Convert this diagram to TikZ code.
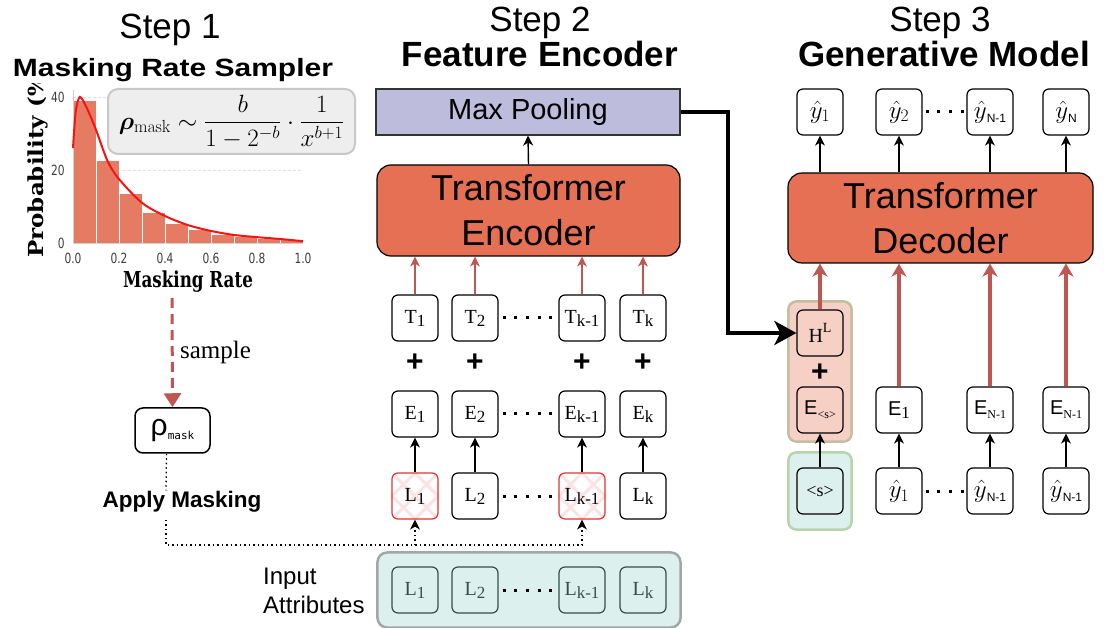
\RequirePackage{fix-cm}
\documentclass[tikz,border=0pt]{standalone}
\usepackage{amsmath,amssymb}
\usepackage{bm}
\usepackage[no-math]{fontspec}
\setmainfont{Liberation Sans}
\newfontfamily\arial{Liberation Sans}
\newfontfamily\serif{Liberation Serif}
\newfontfamily\plotserif{DejaVu Serif}
\newfontfamily\plotsans{DejaVu Sans}
\newfontfamily\codefont{DejaVu Sans Mono}
\usetikzlibrary{arrows.meta,positioning,calc,fit,backgrounds}

\definecolor{tfred}{RGB}{230,112,84}
\definecolor{poolpurple}{RGB}{190,188,220}
\definecolor{arrowred}{RGB}{190,86,82}
\definecolor{barred}{RGB}{228,123,98}
\definecolor{curvered}{RGB}{245,20,20}
\definecolor{tealfill}{RGB}{220,240,237}
\definecolor{pinkfill}{RGB}{246,207,197}
\definecolor{groupgray}{RGB}{160,168,166}
\definecolor{groupgreen}{RGB}{185,212,170}
\definecolor{groupolive}{RGB}{196,190,160}
\definecolor{maskred}{RGB}{222,52,52}
\definecolor{hatchpink}{RGB}{252,226,226}
\definecolor{formulagray}{RGB}{238,238,238}
\definecolor{formulaedge}{RGB}{200,200,200}
\definecolor{tickgray}{RGB}{60,60,60}
\definecolor{attrslate}{RGB}{55,78,72}

\newcommand{\idx}[1]{\raisebox{-3pt}{\fontsize{17}{17}\selectfont #1}}
\newcommand{\tinyidx}[1]{\raisebox{-4pt}{\fontsize{12}{12}\selectfont #1}}
\newcommand{\squeeze}[1]{\scalebox{0.76}[1]{#1}}

\tikzset{
  title/.style={anchor=base, inner sep=0pt, font=\fontsize{35}{40}\selectfont},
  subtitle/.style={anchor=base, inner sep=0pt, font=\bfseries\fontsize{35}{40}\selectfont},
  tok/.style={draw, rounded corners=6pt, line width=1.2pt, minimum width=46pt,
    minimum height=46pt, inner sep=0pt, font=\serif\fontsize{20}{22}\selectfont},
  hat/.style={tok, font=\fontsize{25}{26}\selectfont},
  masked/.style={tok, draw=maskred},
  attr/.style={tok, draw=attrslate, text=attrslate},
  plus/.style={inner sep=0pt, font=\bfseries\fontsize{30}{30}\selectfont},
  tfbox/.style={draw, rounded corners=14pt, line width=1.2pt, fill=tfred,
    minimum height=91pt, align=center, font=\fontsize{36}{45}\selectfont},
  dots/.style={line width=3pt, dash pattern=on 3pt off 8.7pt},
  up/.style={line width=1.4pt, -{Stealth[length=10pt,width=10pt,inset=3pt]}},
  redup/.style={arrowred, line width=1.2pt, -{Stealth[length=10pt,width=10pt,inset=3pt]}},
  redthick/.style={arrowred, line width=3.2pt, -{Stealth[length=13pt,width=15pt,inset=4pt]}},
  maskline/.style={line width=1.3pt, dash pattern=on 1.5pt off 3pt},
  hatch/.style={hatchpink, line width=3pt},
  gridline/.style={black!12, line width=0.6pt, dash pattern=on 3pt off 2pt},
  ticklabel/.style={inner sep=0pt, text=tickgray, font=\plotsans\fontsize{14}{14}\selectfont},
  ingroup/.style={draw=groupgray, line width=2.5pt, fill=tealfill, rounded corners=10pt, inner sep=14pt},
}

\begin{document}
\begin{tikzpicture}[x=1pt,y=-1pt]
\useasboundingbox (0,0) rectangle (1104,628);

% Step titles
\node[title] (step1) at (170,39) {Step 1};
\node[subtitle, font=\bfseries\fontsize{25}{28}\selectfont] (sampler) at (173,77)
  {\scalebox{1.2}[1]{Masking Rate Sampler}};
\node[title] (step2) at (540,32) {Step 2};
\node[subtitle] (encname) at (540,67) {Feature Encoder};
\node[title] (step3) at (940,32) {Step 3};
\node[subtitle] (genname) at (944,67) {Generative Model};

% Masking rate histogram
\begin{scope}[shift={(73,243)}, x=230pt, y=3.65pt]
  \draw[gridline] (0,20) -- (1,20);
  \draw[gridline] (0,40) -- (1,40);
  \foreach \i/\h in {0/39.2,1/22.5,2/13.7,3/8.5,4/5.5,5/3.6,6/2.4,7/1.7,8/1.3,9/0.9}
    \filldraw[fill=barred, draw=white, line width=0.8pt] (\i/10,0) rectangle ({(\i+1)/10},\h);
  \draw[black!18, line width=0.8pt] (0,42) -- (0,0) -- (1,0);
  \draw[curvered, line width=2pt] plot[smooth] coordinates {(0,26) (0.012,36) (0.03,40)
    (0.06,37) (0.1,31) (0.15,22.5) (0.2,17.5) (0.3,11) (0.4,7.4) (0.5,4.9)
    (0.6,3.3) (0.7,2.2) (0.8,1.6) (0.9,1.1) (1.0,0.5)};
  \foreach \v in {0,20,40}
    \node[ticklabel, anchor=east] at (-0.035,\v) {\squeeze{\v}};
  \foreach \u in {0.0,0.2,0.4,0.6,0.8,1.0}
    \node[ticklabel] at (\u,-4.3) {\squeeze{\u}};
\end{scope}
\node[font=\plotserif\bfseries\fontsize{22}{22}\selectfont] (xlabel) at (188,282)
  {\squeeze{Masking Rate}};
\begin{scope}
  \clip (0,84) rectangle (70,300);
  \node[rotate=90, anchor=west, inner sep=0pt, font=\plotserif\bfseries\fontsize{23}{23}\selectfont]
    (ylabel) at (38,258) {\scalebox{1}[0.9]{Probability (\%)}};
\end{scope}

% Sampling distribution
\node[draw=formulaedge, line width=2pt, fill=formulagray, rounded corners=10pt,
  minimum width=247pt, minimum height=65pt, inner sep=0pt,
  font=\fontsize{25}{30}\selectfont] (formula) at (231.5,121.5)
  {$\bm{\rho}_{\mathrm{mask}} \sim \dfrac{b}{1-2^{-b}} \cdot \dfrac{1}{x^{b+1}}$};

% Sampled masking rate
\coordinate (samplestart) at (172,298);
\node[draw, rounded corners=8pt, line width=1.5pt, minimum width=75pt, minimum height=45pt,
  inner sep=0pt] (rho) at (172.5,430.5)
  {{\fontsize{30}{30}\selectfont ρ}\raisebox{-4pt}{\codefont\fontsize{11}{11}\selectfont mask}};
\draw[arrowred, line width=3pt, dash pattern=on 10pt off 6pt,
  -{Triangle[length=14pt,width=17pt]}] (samplestart) -- (rho.north)
  node[pos=0.5, right=3pt, text=black, font=\serif\fontsize{25}{25}\selectfont] (samplelabel) {sample};
\node[anchor=base, inner sep=0pt, font=\bfseries\fontsize{22.5}{24}\selectfont] (apply) at (182,507)
  {Apply Masking};

% Feature encoder
\node[draw=black!80, line width=1.2pt, fill=poolpurple, minimum width=304pt, minimum height=46pt,
  font=\fontsize{29}{30}\selectfont] (pool) at (528,112) {Max Pooling};
\node[tfbox, minimum width=303pt] (enc) at (528.5,210.5) {Transformer\\Encoder};

\node[tok] (t1) at (415,318) {T\idx{1}};
\node[tok] (t2) at (475,318) {T\idx{2}};
\node[tok] (t3) at (582,318) {T\idx{k-1}};
\node[tok] (t4) at (643,318) {T\idx{k}};

\node[plus] (p1) at (415,363) {+};
\node[plus] (p2) at (475,363) {+};
\node[plus] (p3) at (582,363) {+};
\node[plus] (p4) at (643,363) {+};

\node[tok] (e1) at (415,414) {E\idx{1}};
\node[tok] (e2) at (475,414) {E\idx{2}};
\node[tok] (e3) at (582,414) {E\idx{k-1}};
\node[tok] (e4) at (643,414) {E\idx{k}};

\node[masked] (l1) at (415,496) {L\idx{1}};
\node[tok] (l2) at (475,496) {L\idx{2}};
\node[masked] (l3) at (582,496) {L\idx{k-1}};
\node[tok] (l4) at (643,496) {L\idx{k}};

\node[attr] (a1) at (415,590) {L\idx{1}};
\node[attr] (a2) at (475,590) {L\idx{2}};
\node[attr] (a3) at (582,590) {L\idx{k-1}};
\node[attr] (a4) at (643,590) {L\idx{k}};
\node[anchor=west, inner sep=0pt, align=left, font=\fontsize{24}{29}\selectfont] (attrlabel)
  at (263,591) {Input\\Attributes};

\draw[dots] ([xshift=4pt]t2.east) -- (t3.west);
\draw[dots] ([xshift=4pt]e2.east) -- (e3.west);
\draw[dots] ([xshift=4pt]l2.east) -- (l3.west);
\draw[dots] ([xshift=4pt]a2.east) -- (a3.west);

\draw[up] (enc.north) -- (pool.south);
\foreach \n in {1,2,3,4} {
  \draw[redup] (t\n.north) -- (t\n.north |- enc.south);
  \draw[up] (l\n.north) -- (e\n.south);
}

% Masking links
\coordinate (mfork) at (166,545);
\draw[maskline] ([xshift=-6pt]rho.south) -- (apply.north -| mfork);
\draw[maskline, -{Stealth[length=10pt,width=10pt,inset=3pt]}]
  ([yshift=-8pt]apply.south -| mfork) -- (mfork) -| (l3.south);
\draw[maskline, -{Stealth[length=10pt,width=10pt,inset=3pt]}] (mfork -| l1.south) -- (l1.south);

% Generative model
\node[tfbox, minimum width=305pt, minimum height=90pt] (dec) at (940.5,218) {Transformer\\Decoder};

\node[hat] (o1) at (820,112) {$\hat{y}_1$};
\node[hat] (o2) at (899,112) {$\hat{y}_2$};
\node[hat] (o3) at (990,112) {$\hat{y}$\tinyidx{N-1}};
\node[hat] (o4) at (1066,112) {$\hat{y}$\tinyidx{N}};

\node[tok] (hl) at (820,333) {H\raisebox{0.5em}{\fontsize{14}{14}\selectfont L}};
\node[plus] (hp) at (820,373) {+};
\node[tok] (es) at (820,410) {{\arial E}\tinyidx{<s>}};
\node[tok, font=\serif\fontsize{18}{20}\selectfont] (sos) at (820,491) {<s>};

\node[tok] (d1) at (899,410) {{\arial E}\idx{1}};
\node[tok] (d2) at (990,410) {{\arial E}\tinyidx{N-1}};
\node[tok] (d3) at (1066,410) {{\arial E}\tinyidx{N-1}};

\node[hat] (y1) at (899,491) {$\hat{y}_1$};
\node[hat] (y2) at (990,491) {$\hat{y}$\tinyidx{N-1}};
\node[hat] (y3) at (1066,491) {$\hat{y}$\tinyidx{N-1}};

\draw[dots] ([xshift=3pt]o2.east) -- (o3.west);
\draw[dots] ([xshift=3pt]y1.east) -- (y2.west);

\foreach \n in {1,2,3,4}
  \draw[up] (o\n.south |- dec.north) -- (o\n.south);
\draw[redthick] (hl.north) -- (hl.north |- dec.south);
\foreach \n in {1,2,3} {
  \draw[redthick] (d\n.north) -- (d\n.north |- dec.south);
  \draw[up] (y\n.north) -- (d\n.south);
}
\draw[up] (sos.north) -- (es.south);

% Pooled features to decoder
\draw[line width=4pt, -{Stealth[length=22pt,width=24pt,inset=6pt]}]
  (pool.east) -- ++(47,0) |- (hl.west);

% Groups and masked hatching
\begin{scope}[on background layer]
  \node[ingroup, fit=(a1)(a4)] (inputs) {};
  \node[draw=groupolive, line width=2.5pt, fill=pinkfill, rounded corners=8pt,
    inner xsep=8pt, inner ysep=8pt, fit=(hl)(es)] (hgroup) {};
  \node[draw=groupgreen, line width=2.5pt, fill=tealfill, rounded corners=8pt,
    inner xsep=8pt, inner ysep=15pt, fit=(sos)] (sgroup) {};
  \foreach \m in {l1,l3} {
    \begin{scope}
      \clip[rounded corners=6pt] (\m.south west) rectangle (\m.north east);
      \foreach \s in {-23,0,23} {
        \draw[hatch] ([xshift=\s pt]\m.south west) -- ([xshift=\s pt]\m.north east);
        \draw[hatch] ([xshift=\s pt]\m.north west) -- ([xshift=\s pt]\m.south east);
      }
    \end{scope}
  }
\end{scope}
\end{tikzpicture}
\end{document}
